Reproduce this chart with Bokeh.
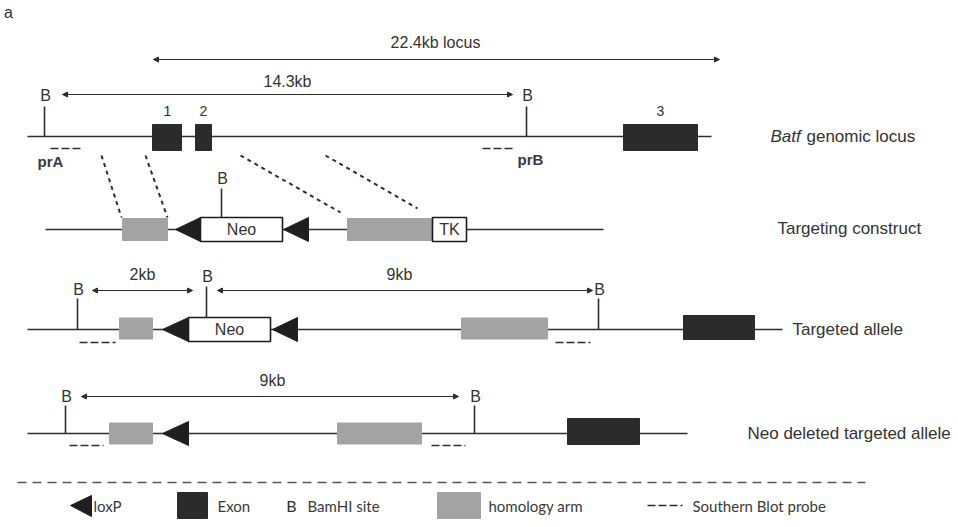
from bokeh.plotting import figure
from bokeh.models import Range1d, ColumnDataSource, Arrow, NormalHead
from bokeh.core.properties import value
from bokeh.embed import file_html
from bokeh.resources import INLINE

# ---------------- data (schematic coordinates) ----------------
backbone_x0 = [32, 50, 32, 32]
backbone_x1 = [716, 608, 787, 692]
backbone_y = [141, 234, 334, 438]

exon_x0 = [157, 200, 628, 688, 572]
exon_x1 = [186, 216, 702, 759, 644]
exon_y = [142, 142, 142, 332, 436]
exon_h = [26, 26, 26, 24, 26]
exon_num = ["1", "2", "3"]
exon_num_x = [172, 208, 665]
exon_num_y = [115, 115, 115]

arm_x0 = [127, 352, 124, 466, 114, 342]
arm_x1 = [172, 437, 157, 552, 157, 426]
arm_y = [234, 234, 333, 333, 438, 438]
arm_h = [22, 22, 21, 21, 21, 21]

box_label = ["Neo", "TK", "Neo"]
box_x0 = [205, 437, 193]
box_x1 = [287, 471, 275]
box_y = [234, 234, 334]
box_h = [24, 24, 24]

loxp_tip = [180, 288, 167, 277, 167]
loxp_base = [205, 313, 193, 302, 193]
loxp_y = [234, 234, 334, 334, 438]

bsite_x = [49, 531, 226, 82, 211, 603, 70, 479]
bsite_y0 = [141, 141, 222, 334, 322, 334, 438, 438]
bsite_y1 = [111, 111, 193, 303, 291, 303, 410, 410]
bsite_ly = [100, 100, 183, 294, 281, 294, 401, 401]

span_x0 = [158, 67, 97, 222, 86]
span_x1 = [724, 517, 197, 597, 463]
span_y = [64, 99, 295, 295, 401]
span_label = ["22.4kb locus", "14.3kb", "2kb", "9kb", "9kb"]
span_lx = [440, 292, 147, 404, 277]
span_ly = [47, 86, 279, 279, 385]

probe_x0 = [55, 487, 84, 560, 74, 436]
probe_x1 = [86, 517, 120, 595, 108, 470]
probe_y = [153, 153, 347, 347, 450, 450]
probe_label = ["prA", "prB"]
probe_lx = [55, 535]
probe_ly = [166, 164]

conn_x0 = [106, 150, 245, 330]
conn_y0 = [160, 160, 160, 160]
conn_x1 = [126, 172, 345, 422]
conn_y1 = [222, 222, 217, 213]

row_label = ["Targeting construct", "Targeted allele", "Neo deleted targeted allele"]
row_lx = [782, 797, 752]
row_ly = [233, 334, 438]

legend_labels = ["loxP", "Exon", "BamHI site", "homology arm", "Southern Blot probe"]
legend_lx = [98, 222, 312, 493, 697]

# ---------------- figure ----------------
W, H = 950, 519
p = figure(width=W, height=H, x_range=Range1d(5, 955), y_range=Range1d(524, 5),
           output_backend="svg", toolbar_location=None, min_border=0)
p.axis.visible = False
p.grid.visible = False
p.outline_line_color = None
p.background_fill_color = "white"

LINE = "#2e2e2e"
DARK = "#2b2b2b"
GRAY = "#a3a3a3"
TXT = "#333333"
FONT = value("Liberation Sans")
LFONT = value("Lato")

# connectors (dashed diagonals)
p.segment(conn_x0, conn_y0, conn_x1, conn_y1, line_color=LINE, line_width=2, line_dash="4 4")

# backbones
p.segment(backbone_x0, backbone_y, backbone_x1, backbone_y, line_color=LINE, line_width=1.6)

# B sites
p.segment(bsite_x, bsite_y0, bsite_x, bsite_y1, line_color=LINE, line_width=1.6)
p.text([x + 1 for x in bsite_x], bsite_ly, text=["B"] * len(bsite_x), text_align="center",
       text_baseline="middle", text_font=FONT, text_font_size="16px", text_color=TXT)

# exons
p.quad(left=exon_x0, right=exon_x1, top=[y - h / 2 for y, h in zip(exon_y, exon_h)],
       bottom=[y + h / 2 for y, h in zip(exon_y, exon_h)], fill_color=DARK, line_color=DARK)
p.text(exon_num_x, exon_num_y, text=exon_num, text_align="center", text_baseline="middle",
       text_font=FONT, text_font_size="14px", text_color=TXT)

# homology arms
p.quad(left=arm_x0, right=arm_x1, top=[y - h / 2 for y, h in zip(arm_y, arm_h)],
       bottom=[y + h / 2 for y, h in zip(arm_y, arm_h)], fill_color=GRAY, line_color=GRAY)

# white boxes (Neo / TK)
p.quad(left=box_x0, right=box_x1, top=[y - h / 2 for y, h in zip(box_y, box_h)],
       bottom=[y + h / 2 for y, h in zip(box_y, box_h)], fill_color="white",
       line_color="#1a1a1a", line_width=1.6)
p.text([(a + b) / 2 for a, b in zip(box_x0, box_x1)], box_y, text=box_label, text_align="center",
       text_baseline="middle", text_font=FONT, text_font_size="16px", text_color=TXT)

# loxP triangles
lx = [[t, b, b] for t, b in zip(loxp_tip, loxp_base)]
ly = [[y, y - 12, y + 12] for y in loxp_y]
p.patches(lx, ly, fill_color="#1f1f1f", line_color="#1f1f1f")

# probes
p.segment(probe_x0, probe_y, probe_x1, probe_y, line_color=LINE, line_width=1.6, line_dash="8 3")
p.text(probe_lx, probe_ly, text=probe_label, text_align="center", text_baseline="middle",
       text_font=FONT, text_font_size="15px", text_font_style="bold", text_color="#3a3a3a")

# span arrows
src = ColumnDataSource(dict(x0=span_x0, x1=span_x1, y=span_y))
p.add_layout(Arrow(start=NormalHead(size=5, fill_color=LINE, line_color=LINE),
                   end=NormalHead(size=5, fill_color=LINE, line_color=LINE),
                   x_start="x0", y_start="y", x_end="x1", y_end="y", source=src,
                   line_color=LINE, line_width=1.2))
p.text(span_lx, span_ly, text=span_label, text_align="center", text_baseline="middle",
       text_font=FONT, text_font_size="16px", text_color=TXT)

# row labels
p.text([775], [141], text=["Batf"], text_align="left", text_baseline="middle", text_font=FONT,
       text_font_size="17px", text_font_style="italic", text_color=TXT)
p.text([811], [141], text=["genomic locus"], text_align="left", text_baseline="middle",
       text_font=FONT, text_font_size="17px", text_color=TXT)
p.text(row_lx, row_ly, text=row_label, text_align="left", text_baseline="middle", text_font=FONT,
       text_font_size="17px", text_color=TXT)

# panel letter
p.text([13], [17], text=["a"], text_align="center", text_baseline="middle", text_font=FONT,
       text_font_size="16px", text_color=TXT)

# separator
p.segment([22], [487], [870], [487], line_color="#555555", line_width=1.3, line_dash="9 6")

# legend
p.patches([[75, 96, 96]], [[510, 500, 521]], fill_color="#1f1f1f", line_color="#1f1f1f")
p.quad(left=[182], right=[212], top=[497], bottom=[523], fill_color=DARK, line_color=DARK)
p.quad(left=[442], right=[485], top=[497], bottom=[523], fill_color=GRAY, line_color=GRAY)
p.segment([652], [510], [687], [510], line_color=LINE, line_width=1.6, line_dash="8 3")
p.text([296], [510], text=["B"], text_align="center", text_baseline="middle", text_font=LFONT,
       text_font_size="16px", text_color=TXT)
p.text(legend_lx, [510] * len(legend_lx), text=legend_labels, text_align="left",
       text_baseline="middle", text_font=LFONT, text_font_size="15px", text_color="#3a3a3a")

open("out.html", "w").write(file_html(p, INLINE))
